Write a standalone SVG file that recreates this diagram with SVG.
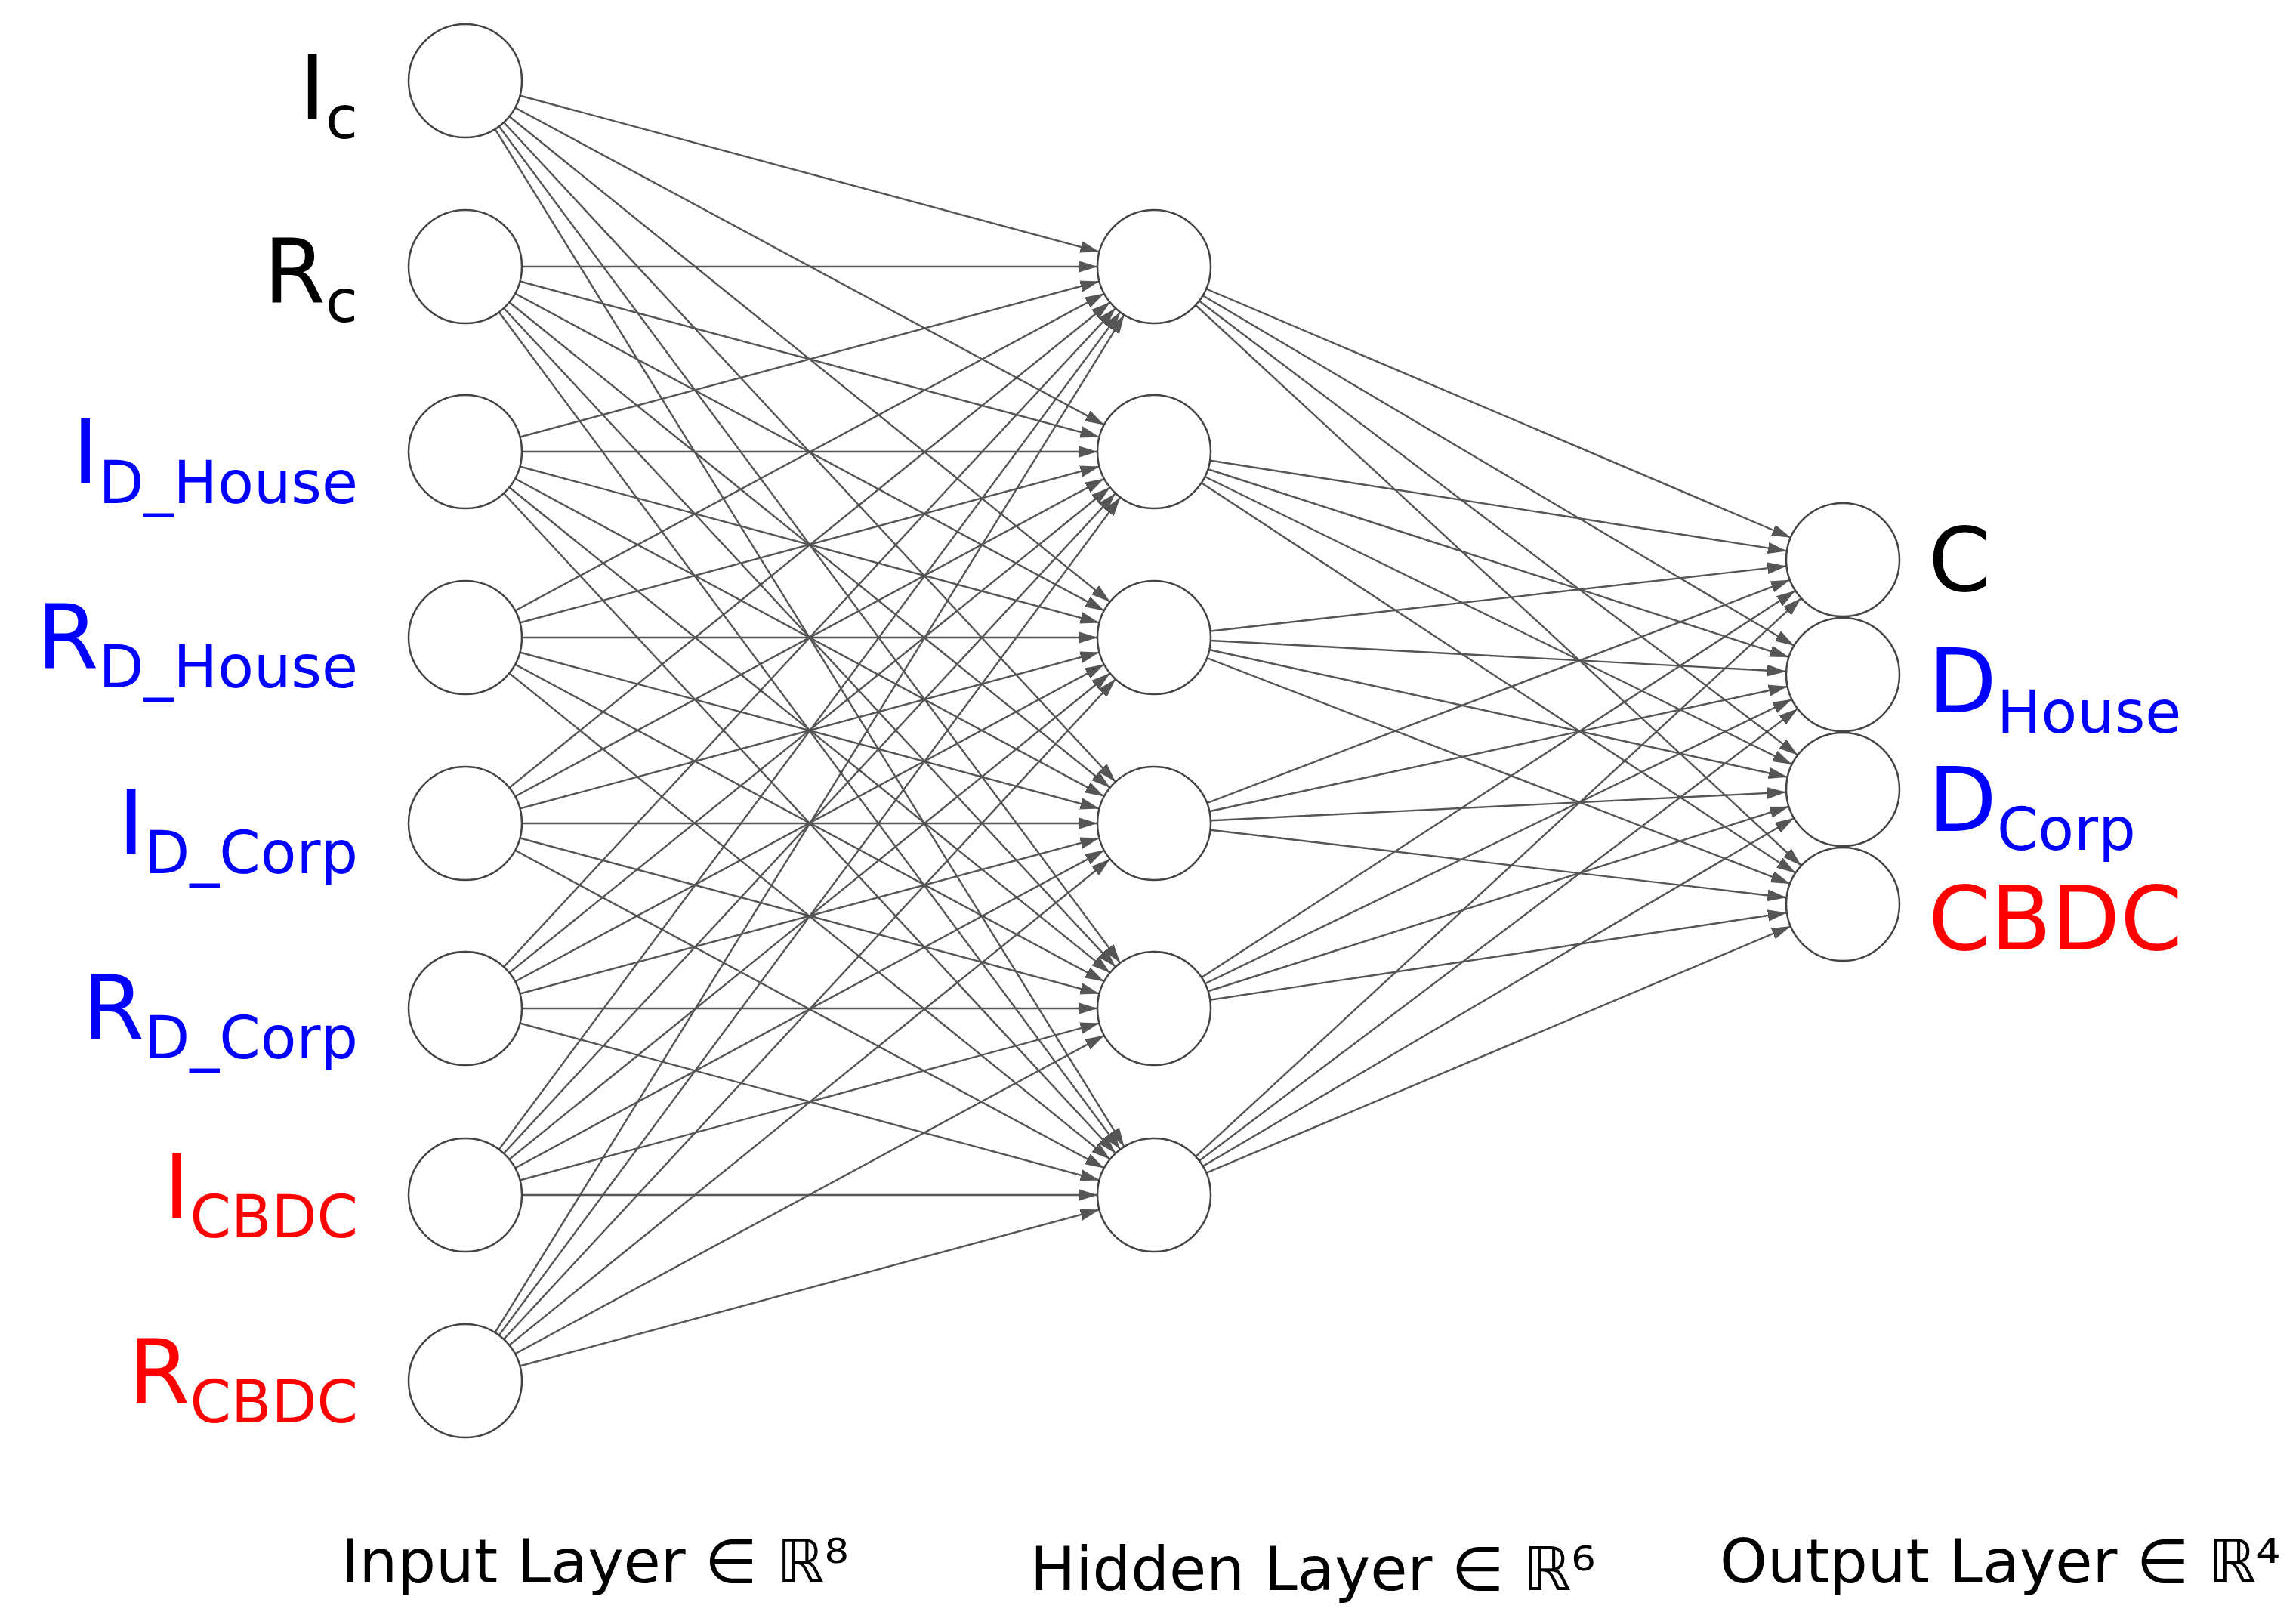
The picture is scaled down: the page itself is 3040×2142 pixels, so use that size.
<svg xmlns="http://www.w3.org/2000/svg" width="3040" height="2142" viewBox="0 0 3040 2142">
<style>
.c line{stroke:#555;stroke-width:2.4;marker-end:url(#a)}
.n{fill:#fff;stroke:#444;stroke-width:2.5}
.t{font-family:"DejaVu Sans",Verdana,sans-serif;font-size:118px}
.s{font-size:78px}
.b{font-family:"DejaVu Sans",Verdana,sans-serif;font-size:80px;fill:#000}
</style>
<defs>
<marker id="a" markerUnits="userSpaceOnUse" viewBox="0 -12 100 24" refX="100" refY="0" markerWidth="100" markerHeight="24" orient="auto">
<path d="M25,0 L-4,-9 L-4,9 Z" fill="#555"/>
</marker>
</defs>
<rect width="3040" height="2142" fill="#fff"/>
<g id="connectors" class="c">
<line x1="616" y1="107" x2="1528" y2="353"/><line x1="616" y1="107" x2="1528" y2="598"/><line x1="616" y1="107" x2="1528" y2="844"/><line x1="616" y1="107" x2="1528" y2="1090"/><line x1="616" y1="107" x2="1528" y2="1335"/><line x1="616" y1="107" x2="1528" y2="1582"/>
<line x1="616" y1="353" x2="1528" y2="353"/><line x1="616" y1="353" x2="1528" y2="598"/><line x1="616" y1="353" x2="1528" y2="844"/><line x1="616" y1="353" x2="1528" y2="1090"/><line x1="616" y1="353" x2="1528" y2="1335"/><line x1="616" y1="353" x2="1528" y2="1582"/>
<line x1="616" y1="598" x2="1528" y2="353"/><line x1="616" y1="598" x2="1528" y2="598"/><line x1="616" y1="598" x2="1528" y2="844"/><line x1="616" y1="598" x2="1528" y2="1090"/><line x1="616" y1="598" x2="1528" y2="1335"/><line x1="616" y1="598" x2="1528" y2="1582"/>
<line x1="616" y1="844" x2="1528" y2="353"/><line x1="616" y1="844" x2="1528" y2="598"/><line x1="616" y1="844" x2="1528" y2="844"/><line x1="616" y1="844" x2="1528" y2="1090"/><line x1="616" y1="844" x2="1528" y2="1335"/><line x1="616" y1="844" x2="1528" y2="1582"/>
<line x1="616" y1="1090" x2="1528" y2="353"/><line x1="616" y1="1090" x2="1528" y2="598"/><line x1="616" y1="1090" x2="1528" y2="844"/><line x1="616" y1="1090" x2="1528" y2="1090"/><line x1="616" y1="1090" x2="1528" y2="1335"/><line x1="616" y1="1090" x2="1528" y2="1582"/>
<line x1="616" y1="1335" x2="1528" y2="353"/><line x1="616" y1="1335" x2="1528" y2="598"/><line x1="616" y1="1335" x2="1528" y2="844"/><line x1="616" y1="1335" x2="1528" y2="1090"/><line x1="616" y1="1335" x2="1528" y2="1335"/><line x1="616" y1="1335" x2="1528" y2="1582"/>
<line x1="616" y1="1582" x2="1528" y2="353"/><line x1="616" y1="1582" x2="1528" y2="598"/><line x1="616" y1="1582" x2="1528" y2="844"/><line x1="616" y1="1582" x2="1528" y2="1090"/><line x1="616" y1="1582" x2="1528" y2="1335"/><line x1="616" y1="1582" x2="1528" y2="1582"/>
<line x1="616" y1="1828" x2="1528" y2="353"/><line x1="616" y1="1828" x2="1528" y2="598"/><line x1="616" y1="1828" x2="1528" y2="844"/><line x1="616" y1="1828" x2="1528" y2="1090"/><line x1="616" y1="1828" x2="1528" y2="1335"/><line x1="616" y1="1828" x2="1528" y2="1582"/>
<line x1="1528" y1="353" x2="2440" y2="741"/><line x1="1528" y1="353" x2="2440" y2="893"/><line x1="1528" y1="353" x2="2440" y2="1045"/><line x1="1528" y1="353" x2="2440" y2="1197"/>
<line x1="1528" y1="598" x2="2440" y2="741"/><line x1="1528" y1="598" x2="2440" y2="893"/><line x1="1528" y1="598" x2="2440" y2="1045"/><line x1="1528" y1="598" x2="2440" y2="1197"/>
<line x1="1528" y1="844" x2="2440" y2="741"/><line x1="1528" y1="844" x2="2440" y2="893"/><line x1="1528" y1="844" x2="2440" y2="1045"/><line x1="1528" y1="844" x2="2440" y2="1197"/>
<line x1="1528" y1="1090" x2="2440" y2="741"/><line x1="1528" y1="1090" x2="2440" y2="893"/><line x1="1528" y1="1090" x2="2440" y2="1045"/><line x1="1528" y1="1090" x2="2440" y2="1197"/>
<line x1="1528" y1="1335" x2="2440" y2="741"/><line x1="1528" y1="1335" x2="2440" y2="893"/><line x1="1528" y1="1335" x2="2440" y2="1045"/><line x1="1528" y1="1335" x2="2440" y2="1197"/>
<line x1="1528" y1="1582" x2="2440" y2="741"/><line x1="1528" y1="1582" x2="2440" y2="893"/><line x1="1528" y1="1582" x2="2440" y2="1045"/><line x1="1528" y1="1582" x2="2440" y2="1197"/>
</g>
<g id="in1"><circle class="n" cx="616" cy="107" r="75"/><text class="t" x="474" y="157" text-anchor="end" fill="#000">I<tspan class="s" dy="26">c</tspan></text></g>
<g id="in2"><circle class="n" cx="616" cy="353" r="75"/><text class="t" x="474" y="400" text-anchor="end" fill="#000">R<tspan class="s" dy="26">c</tspan></text></g>
<g id="in3"><circle class="n" cx="616" cy="598" r="75"/><text class="t" x="474" y="640" text-anchor="end" fill="#0000ff">I<tspan class="s" dy="26">D_House</tspan></text></g>
<g id="in4"><circle class="n" cx="616" cy="844" r="75"/><text class="t" x="474" y="884" text-anchor="end" fill="#0000ff">R<tspan class="s" dy="26">D_House</tspan></text></g>
<g id="in5"><circle class="n" cx="616" cy="1090" r="75"/><text class="t" x="474" y="1130" text-anchor="end" fill="#0000ff">I<tspan class="s" dy="26">D_Corp</tspan></text></g>
<g id="in6"><circle class="n" cx="616" cy="1335" r="75"/><text class="t" x="474" y="1375" text-anchor="end" fill="#0000ff">R<tspan class="s" dy="26">D_Corp</tspan></text></g>
<g id="in7"><circle class="n" cx="616" cy="1582" r="75"/><text class="t" x="474" y="1612" text-anchor="end" fill="#ff0000">I<tspan class="s" dy="26">CBDC</tspan></text></g>
<g id="in8"><circle class="n" cx="616" cy="1828" r="75"/><text class="t" x="474" y="1857" text-anchor="end" fill="#ff0000">R<tspan class="s" dy="26">CBDC</tspan></text></g>
<g id="h1"><circle class="n" cx="1528" cy="353" r="75"/></g>
<g id="h2"><circle class="n" cx="1528" cy="598" r="75"/></g>
<g id="h3"><circle class="n" cx="1528" cy="844" r="75"/></g>
<g id="h4"><circle class="n" cx="1528" cy="1090" r="75"/></g>
<g id="h5"><circle class="n" cx="1528" cy="1335" r="75"/></g>
<g id="h6"><circle class="n" cx="1528" cy="1582" r="75"/></g>
<g id="o1"><circle class="n" cx="2440" cy="741" r="75"/><text class="t" x="2553" y="782" fill="#000">C</text></g>
<g id="o2"><circle class="n" cx="2440" cy="893" r="75"/><text class="t" x="2553" y="943" fill="#0000ff">D<tspan class="s" dy="27">House</tspan></text></g>
<g id="o3"><circle class="n" cx="2440" cy="1045" r="75"/><text class="t" x="2553" y="1100" fill="#0000ff">D<tspan class="s" dy="25">Corp</tspan></text></g>
<g id="o4"><circle class="n" cx="2440" cy="1197" r="75"/><text class="t" x="2553" y="1257" fill="#ff0000">CBDC</text></g>
<g id="labels">
<text class="b" x="452" y="2095">Input Layer ∈ ℝ⁸</text>
<text class="b" x="1364" y="2105">Hidden Layer ∈ ℝ⁶</text>
<text class="b" x="2277" y="2095">Output Layer ∈ ℝ⁴</text>
</g>
</svg>
